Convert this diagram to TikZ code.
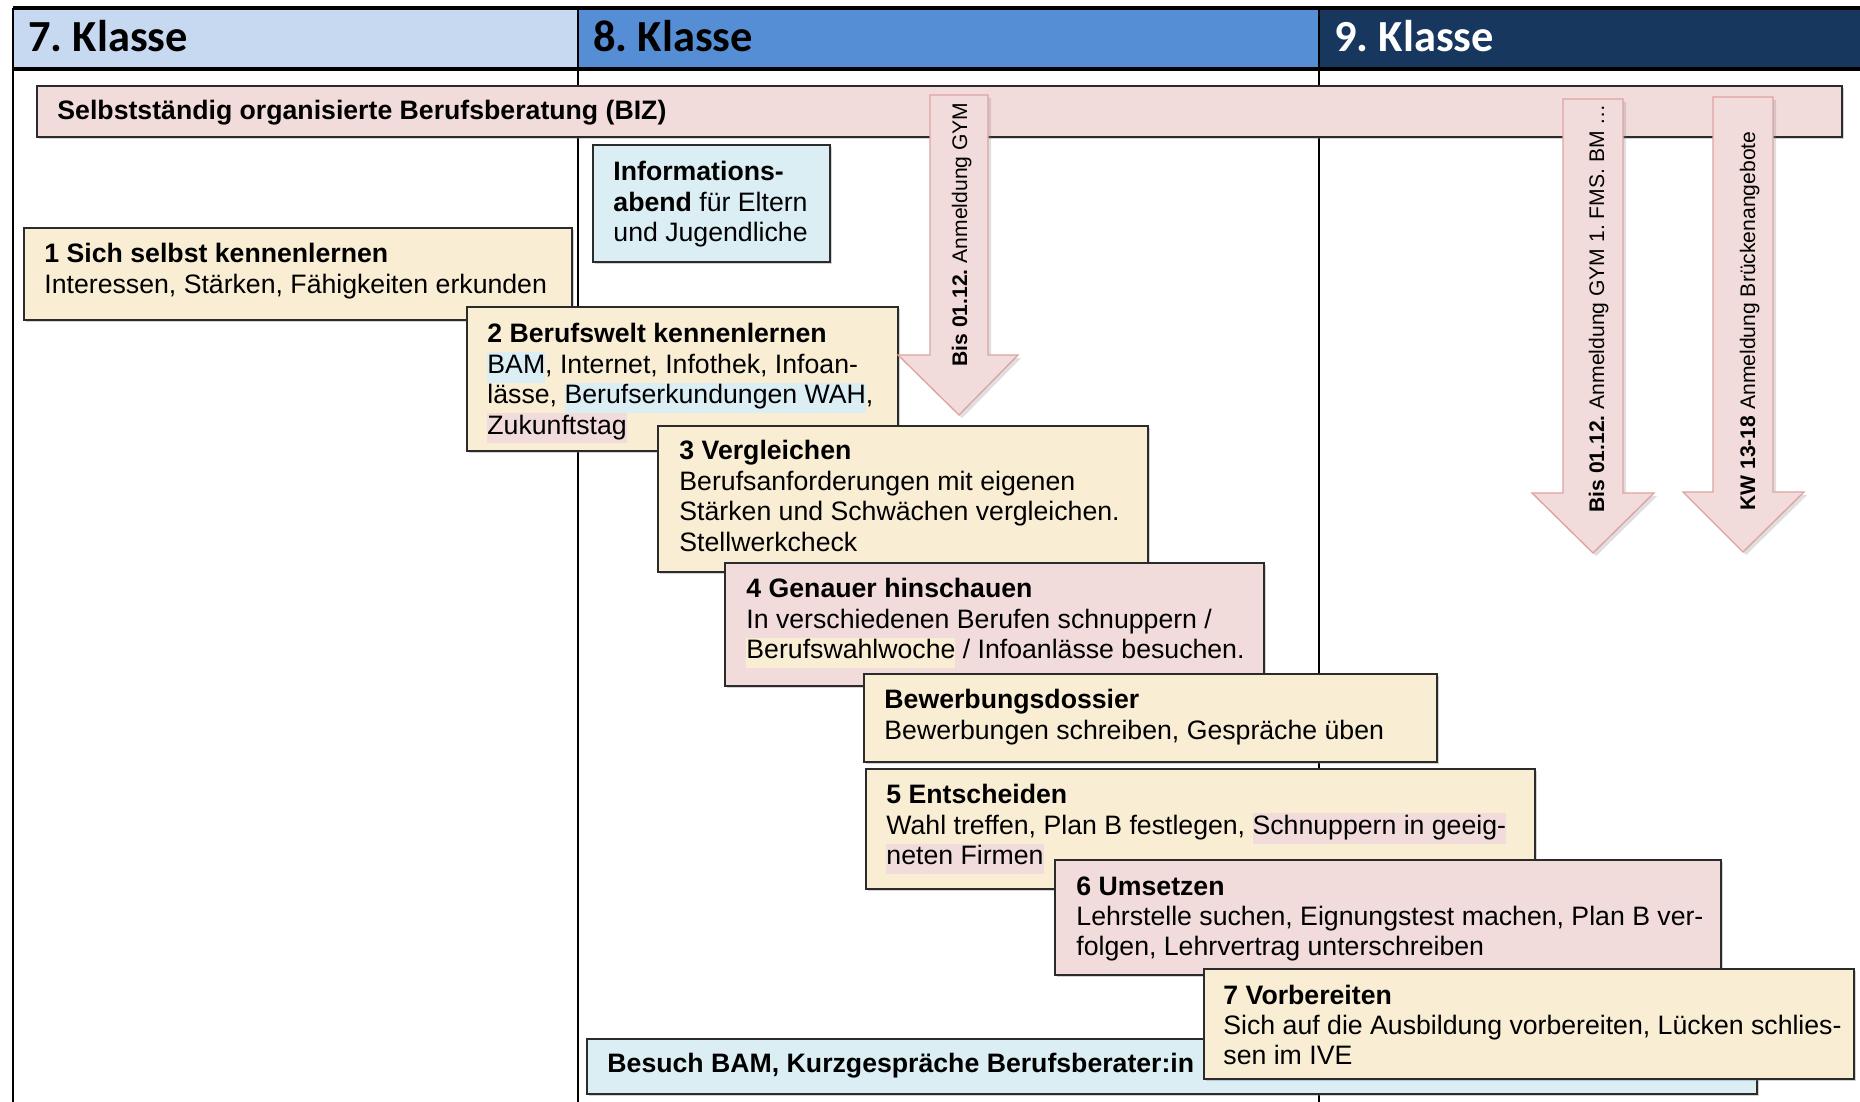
\documentclass[tikz,border=0pt]{standalone}
\usepackage{fontspec}
\setmainfont{Liberation Sans}
\newfontfamily\hdfont{Carlito}
\usetikzlibrary{fit,shadows}
\frenchspacing
\definecolor{cream}{HTML}{F9EDD4}
\definecolor{pinkbox}{HTML}{F2DCDB}
\definecolor{lblue}{HTML}{DBEEF4}
\definecolor{hdA}{HTML}{C6D9F1}
\definecolor{hdB}{HTML}{558ED5}
\definecolor{hdC}{HTML}{17375E}
\definecolor{arrowedge}{HTML}{DDA3A1}
\definecolor{boxedge}{HTML}{2B2B2B}
\newcommand{\hlt}[2]{{\setlength{\fboxsep}{0pt}\colorbox{#1}{\strut #2}}}
\newcommand{\lines}[1]{\begin{tabular}[t]{@{}l@{}}#1\end{tabular}}
\begin{document}
\frenchspacing
\begin{tikzpicture}[x=0.45pt,y=-0.45pt,
  box/.style={draw=boxedge, line width=0.6pt, inner sep=0pt,
    drop shadow={shadow xshift=0.9pt, shadow yshift=-0.9pt, opacity=0.35}},
  txt/.style={anchor=base west, inner sep=0pt, font=\fontsize{12}{13.7}\selectfont},
  hd/.style={anchor=base west, inner sep=0pt, font=\hdfont\bfseries\fontsize{20}{24}\selectfont},
  arr/.style={fill=pinkbox, draw=arrowedge, line width=0.6pt,
    drop shadow={shadow xshift=1.4pt, shadow yshift=-1.4pt, opacity=0.25}},
  arrtxt/.style={rotate=90, anchor=base west, inner sep=0pt, font=\fontsize{9.5}{11}\selectfont},
  rule/.style={line width=0.8pt}]
\useasboundingbox (0,0) rectangle (1860,1102);
% header
\fill[hdA] (13,8) rectangle (578,69);
\fill[hdB] (578,8) rectangle (1319,69);
\fill[hdC] (1319,8) rectangle (1860,69);
\draw[line width=1.4pt] (13,8) -- (1860,8);
\draw[line width=1.4pt] (13,69) -- (1860,69);
\draw[rule] (13,8) -- (13,1102);
\draw[rule] (578,8) -- (578,1102);
\draw[line width=1.2pt] (1319,8) -- (1319,69);
\draw[rule] (1319,69) -- (1319,1102);
\node[hd] (h7) at (28,52) {7. Klasse};
\node[hd] (h8) at (593,52) {8. Klasse};
\node[hd, text=white] (h9) at (1334,52) {9. Klasse};
% BIZ bar
\node[box, fill=pinkbox, fit={(37,86)(1842,137)}] (biz) {};
\node[txt] (biztxt) at (57,120) {\textbf{Selbstständig organisierte Berufsberatung (BIZ)}};
% Info box
\node[box, fill=lblue, fit={(593,145)(830,262)}] (info) {};
\node[txt] (infotxt) at (613,181) {\lines{\textbf{Informations-}\\\textbf{abend} für Eltern\\und Jugendliche}};
% Box 1
\node[box, fill=cream, fit={(24,228)(572,320)}] (b1) {};
\node[txt] (t1) at (44,263) {\lines{\textbf{1 Sich selbst kennenlernen}\\Interessen, Stärken, Fähigkeiten erkunden}};
% Box 2
\node[box, fill=cream, fit={(467,307)(898,451)}] (b2) {};
\node[txt] (t2) at (487,343) {\lines{\textbf{2 Berufswelt kennenlernen}\\\hlt{lblue}{BAM}, Internet, Infothek, Infoan-\\lässe, \hlt{lblue}{Berufserkundungen WAH},\\\hlt{pinkbox}{Zukunftstag}}};
% Arrows
\draw[arr] (930,95) -- (988,95) -- (988,355) -- (1018,355) -- (959,415) -- (898,355) -- (930,355) -- cycle;
\node[arrtxt] (a1) at (967,367) {\textbf{Bis 01.12.} Anmeldung GYM};
\draw[arr] (1563,99) -- (1623,99) -- (1623,493) -- (1654,493) -- (1593,553) -- (1532,493) -- (1563,493) -- cycle;
\node[arrtxt] (a2) at (1604,513) {\textbf{Bis 01.12.} Anmeldung GYM 1. FMS. BM …};
\draw[arr] (1713,97) -- (1773,97) -- (1773,492) -- (1804,492) -- (1743,552) -- (1683,492) -- (1713,492) -- cycle;
\node[arrtxt] (a3) at (1755,511) {\textbf{KW 13-18} Anmeldung Brückenangebote};
% Box 3
\node[box, fill=cream, fit={(658,426)(1148,572)}] (b3) {};
\node[txt] (t3) at (679,460) {\lines{\textbf{3 Vergleichen}\\Berufsanforderungen mit eigenen\\Stärken und Schwächen vergleichen.\\Stellwerkcheck}};
% Box 4
\node[box, fill=pinkbox, fit={(725,563)(1264,686)}] (b4) {};
\node[txt] (t4) at (746,598) {\lines{\textbf{4 Genauer hinschauen}\\In verschiedenen Berufen schnuppern /\\\hlt{cream}{Berufswahlwoche} / Infoanlässe besuchen.}};
% Bewerbungsdossier
\node[box, fill=cream, fit={(864,674)(1437,762)}] (bd) {};
\node[txt] (tbd) at (884,709) {\lines{\textbf{Bewerbungsdossier}\\Bewerbungen schreiben, Gespräche üben}};
% Box 5
\node[box, fill=cream, fit={(866,769)(1535,889)}] (b5) {};
\node[txt] (t5) at (886,804) {\lines{\textbf{5 Entscheiden}\\Wahl treffen, Plan B festlegen, \hlt{pinkbox}{Schnuppern in geeig-}\\\hlt{pinkbox}{neten Firmen}}};
% Box 6
\node[box, fill=pinkbox, fit={(1055,860)(1721,975)}] (b6) {};
\node[txt] (t6) at (1076,895) {\lines{\textbf{6 Umsetzen}\\Lehrstelle suchen, Eignungstest machen, Plan B ver-\\folgen, Lehrvertrag unterschreiben}};
% Besuch BAM
\node[box, fill=lblue, fit={(587,1039)(1757,1094)}] (bam) {};
\node[txt] (tbam) at (607,1072) {\textbf{Besuch BAM, Kurzgespräche Berufsberater:in}};
% Box 7
\node[box, fill=cream, fit={(1204,969)(1854,1079)}] (b7) {};
\node[txt] (t7) at (1223,1004) {\lines{\textbf{7 Vorbereiten}\\Sich auf die Ausbildung vorbereiten, Lücken schlies-\\sen im IVE}};
\end{tikzpicture}
\end{document}
